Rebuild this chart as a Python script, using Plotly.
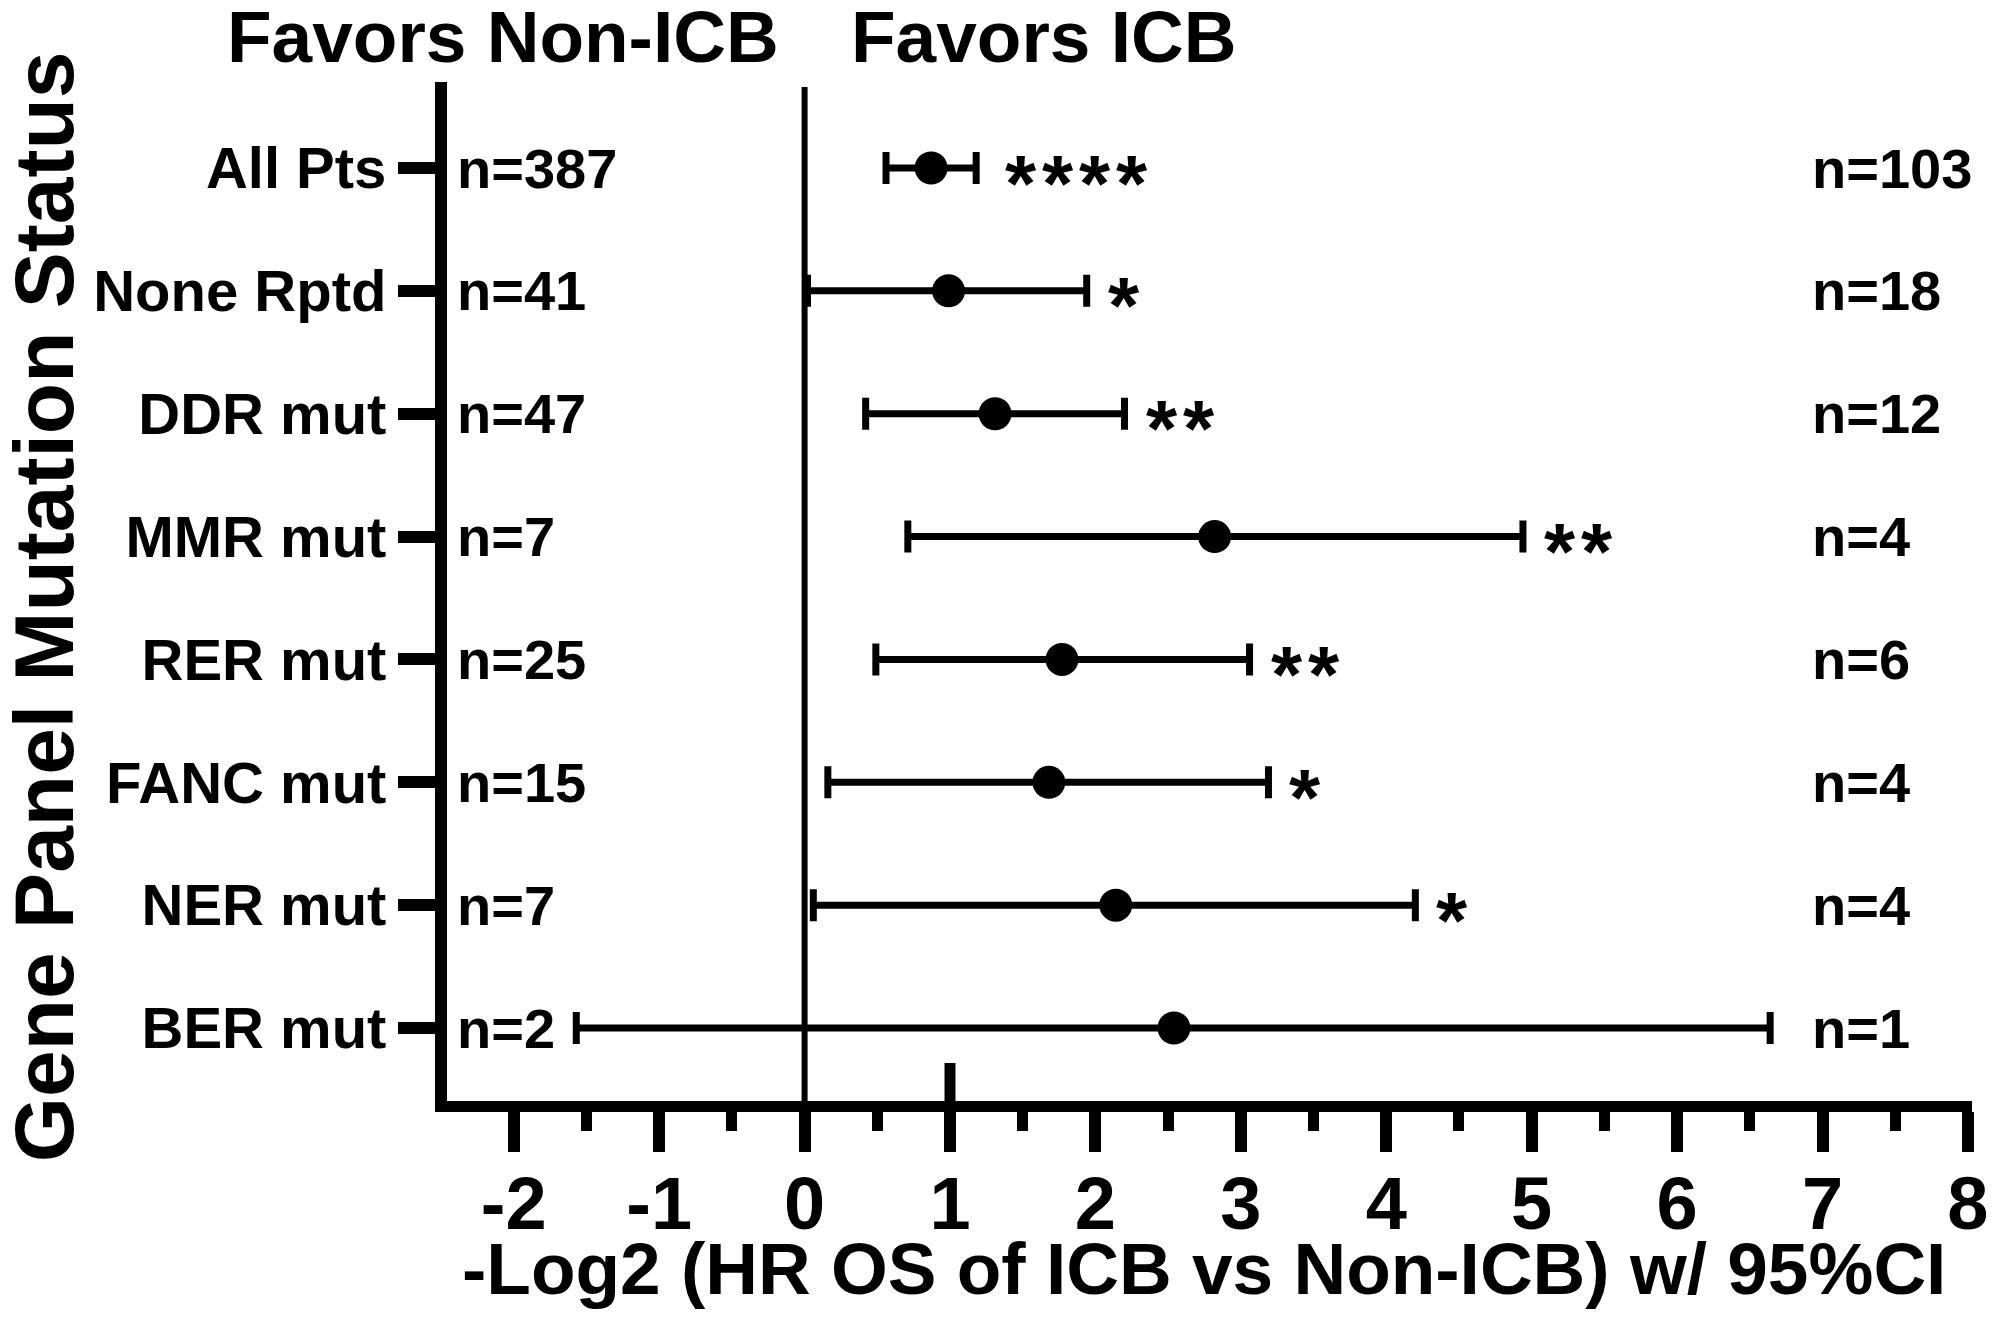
import plotly.graph_objects as go

# ---------------- data ----------------
categories = ["All Pts", "None Rptd", "DDR mut", "MMR mut", "RER mut",
              "FANC mut", "NER mut", "BER mut"]
log2_hr = [0.87, 0.99, 1.31, 2.82, 1.77, 1.68, 2.14, 2.54]
ci_low = [0.56, 0.02, 0.42, 0.71, 0.49, 0.16, 0.06, -1.57]
ci_high = [1.18, 1.94, 2.20, 4.94, 3.06, 3.19, 4.20, 6.64]
n_non_icb = ["n=387", "n=41", "n=47", "n=7", "n=25", "n=15", "n=7", "n=2"]
n_icb = ["n=103", "n=18", "n=12", "n=4", "n=6", "n=4", "n=4", "n=1"]
significance = ["****", "*", "**", "**", "**", "*", "*", ""]
x_tick_vals = [-2, -1, 0, 1, 2, 3, 4, 5, 6, 7, 8]
x_tick_text = ["-2", "-1", "0", "1", "2", "3", "4", "5", "6", "7", "8"]

x_title = "-Log2 (HR OS of ICB vs Non-ICB) w/ 95%CI"
y_title = "Gene Panel Mutation Status"
left_header = "Favors Non-ICB"
right_header = "Favors ICB"

# ---------------- layout geometry (page pixels) ----------------
BODY = 8                      # default page margin around the figure
W_FIG, H_FIG = 2000 - BODY, 1326 - BODY
L, T, PW, PH = 447, 82, 1530, 1019   # plot area in page pixels
XMIN, XMAX = -2.459, 8.028
YMIN, YMAX = 0.406, 8.70
FONT = "Liberation Sans, Arial, Helvetica, sans-serif"


def px2x(px):
    return (px - L) / PW


def py2y(py):
    return (T + PH - py) / PH


nrow = len(categories)
ypos = [nrow - i for i in range(nrow)]

err_plus = [h - v for h, v in zip(ci_high, log2_hr)]
err_minus = [v - l for v, l in zip(log2_hr, ci_low)]

fig = go.Figure()
fig.add_trace(go.Scatter(
    x=log2_hr, y=ypos, mode="markers",
    marker=dict(size=33, color="black", symbol="circle"),
    error_x=dict(type="data", symmetric=False, array=err_plus,
                 arrayminus=err_minus, color="black", thickness=7, width=16),
    showlegend=False, hoverinfo="skip",
))

annotations = []
for i in range(nrow):
    annotations.append(dict(
        x=-2.356, y=ypos[i], xref="x", yref="y", text=n_non_icb[i],
        showarrow=False, xanchor="left", yanchor="middle", borderpad=0,
        xshift=-6,
        font=dict(family=FONT, size=56, color="black", weight="bold")))
    annotations.append(dict(
        x=6.974, y=ypos[i], xref="x", yref="y", text=n_icb[i],
        showarrow=False, xanchor="left", yanchor="middle", borderpad=0,
        xshift=-8,
        font=dict(family=FONT, size=56, color="black", weight="bold")))
    gap = 28 if len(significance[i]) > 2 else 20
    for k in range(len(significance[i])):
        annotations.append(dict(
            x=ci_high[i], y=ypos[i], xref="x", yref="y", text="*",
            showarrow=False, xanchor="left", yanchor="middle", borderpad=0,
            xshift=gap + k * 37, yshift=-15,
            font=dict(family=FONT, size=80, color="black", weight="bold")))

annotations += [
    dict(x=px2x(781), y=py2y(36), xref="paper", yref="paper", text=left_header,
         showarrow=False, xanchor="right", yanchor="middle", borderpad=0,
         font=dict(family=FONT, size=73, color="black", weight="bold")),
    dict(x=px2x(851), y=py2y(36), xref="paper", yref="paper", text=right_header,
         showarrow=False, xanchor="left", yanchor="middle", borderpad=0,
         font=dict(family=FONT, size=73, color="black", weight="bold")),
    dict(x=px2x(1206), y=py2y(1268), xref="paper", yref="paper", text=x_title,
         showarrow=False, xanchor="center", yanchor="middle", borderpad=0,
         font=dict(family=FONT, size=73, color="black", weight="bold")),
    dict(x=px2x(43), y=py2y(607), xref="paper", yref="paper", text=y_title,
         textangle=-90, showarrow=False, xanchor="center", yanchor="middle",
         borderpad=0,
         font=dict(family=FONT, size=84, color="black", weight="bold")),
]

shapes = [
    # vertical reference line at 0
    dict(type="line", xref="x", yref="paper", x0=0, x1=0, y0=0, y1=py2y(87),
         line=dict(color="black", width=6), layer="below"),
    # raised tick at x = 1
    dict(type="line", xref="x", yref="paper", x0=1, x1=1, y0=0, y1=py2y(1063),
         line=dict(color="black", width=11)),
]

fig.update_layout(
    width=W_FIG, height=H_FIG,
    margin=dict(l=L - BODY, r=W_FIG - (L - BODY) - PW, t=T - BODY,
                b=H_FIG - (T - BODY) - PH, pad=0),
    plot_bgcolor="white", paper_bgcolor="white",
    annotations=annotations, shapes=shapes,
    font=dict(family=FONT, color="black"),
)
fig.update_xaxes(
    range=[XMIN, XMAX], showgrid=False, zeroline=False,
    showline=True, linecolor="black", linewidth=11,
    tickmode="array", tickvals=x_tick_vals, ticktext=x_tick_text,
    ticks="outside", ticklen=40, tickwidth=12, tickcolor="black",
    ticklabelstandoff=-12,
    minor=dict(ticks="outside", ticklen=19, tickwidth=11, tickcolor="black",
               tickmode="array", tickvals=[v + 0.5 for v in x_tick_vals[:-1]]),
    tickfont=dict(family=FONT, size=74, color="black", weight="bold"),
)
fig.update_yaxes(
    range=[YMIN, YMAX], showgrid=False, zeroline=False,
    showline=True, linecolor="black", linewidth=12,
    tickmode="array", tickvals=ypos, ticktext=categories,
    ticks="outside", ticklen=37, tickwidth=12, tickcolor="black",
    tickfont=dict(family=FONT, size=58, color="black", weight="bold"),
)

fig.write_html("out.html")
